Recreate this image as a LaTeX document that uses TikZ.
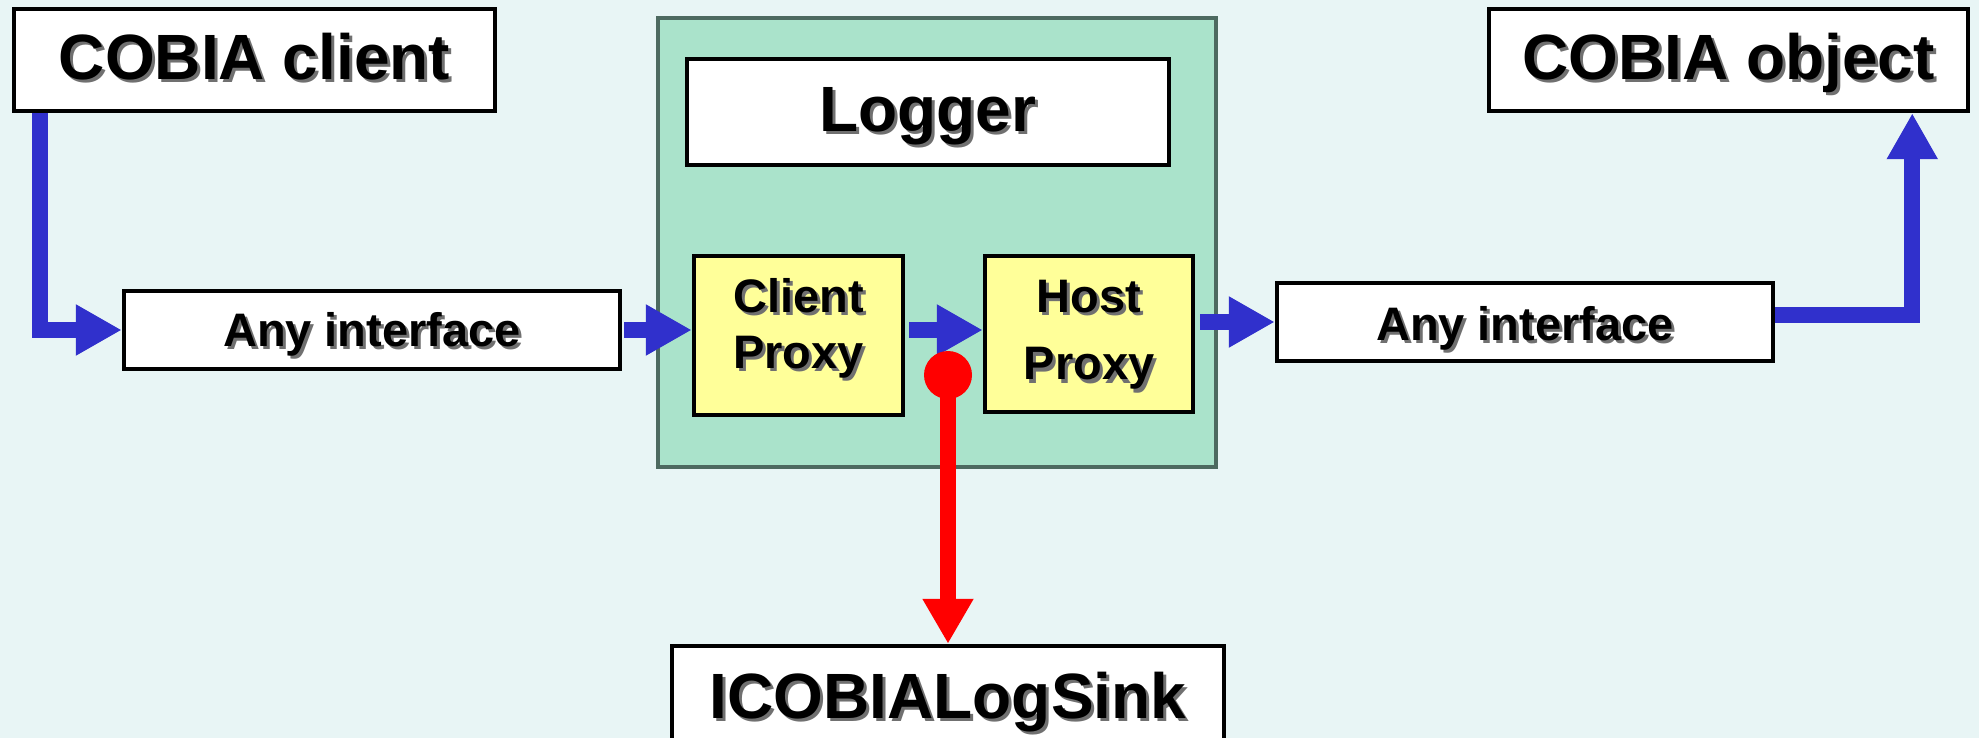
\documentclass[tikz,border=0pt]{standalone}
\usepackage{fontspec}
\setmainfont{Liberation Sans}
\usetikzlibrary{arrows.meta}
\definecolor{bgcol}{HTML}{E8F5F5}
\definecolor{panelfill}{HTML}{AAE3CB}
\definecolor{panelline}{HTML}{4D6A60}
\definecolor{proxyfill}{HTML}{FFFF99}
\definecolor{flowblue}{HTML}{3030CC}
\definecolor{logred}{HTML}{FF0000}
\definecolor{shadowgray}{HTML}{707070}
% text with a soft drop shadow
\newcommand\shd[1]{\leavevmode\rlap{\kern3pt\raisebox{-3pt}{\textcolor{shadowgray}{#1}}}#1}
% place a label's baseline at a given offset from the box centre
\newcommand\lift[2]{\raisebox{#1}[0pt][0pt]{#2}}
% two stacked lines, first baseline as reference
\newcommand\twolines[3]{\lift{#1}{\begin{tabular}[t]{@{}c@{}}#2\\#3\end{tabular}}}

\begin{document}
\begin{tikzpicture}[x=1pt,y=-1pt,
  box/.style={draw=black, line width=4.5pt, fill=white, inner sep=0pt,
    font=\bfseries\fontsize{47}{56}\selectfont},
  bigbox/.style={box, font=\bfseries\fontsize{64}{70}\selectfont},
  proxybox/.style={box, fill=proxyfill},
  panel/.style={draw=panelline, line width=4.5pt, fill=panelfill, inner sep=0pt},
  flow/.style={draw=flowblue, line width=16pt, -{Triangle[length=46pt,width=48pt]}},
  logflow/.style={draw=logred, line width=16pt, -{Triangle[length=45pt,width=48pt]}},
  tapdot/.style={circle, fill=logred, minimum size=48pt, inner sep=0pt},
]
\fill[bgcol] (0,0) rectangle (1979,738);
\useasboundingbox (0,0) rectangle (1979,738);
\clip (0,0) rectangle (1979,738);

% logger panel and its parts
\node[panel, minimum width=558pt, minimum height=449pt] (logger) at (937,242.5) {};
\node[bigbox, minimum width=482pt, minimum height=106pt] (lg) at (928,112) {\lift{-20pt}{\shd{Logger}}};
\node[proxybox, minimum width=209pt, minimum height=159pt] (cp) at (798.5,335.5)
  {\fontsize{47}{56}\selectfont\twolines{23.5pt}{\shd{Client}}{\shd{Proxy}}};
\node[proxybox, minimum width=208pt, minimum height=156pt] (hp) at (1089,334)
  {\fontsize{47}{68}\selectfont\twolines{22pt}{\shd{Host}}{\shd{Proxy}}};

% outer boxes
\node[bigbox, minimum width=481pt, minimum height=102pt] (cc) at (254.5,60) {\lift{-20pt}{\shd{COBIA client}}};
\node[bigbox, minimum width=479pt, minimum height=102pt] (co) at (1728.5,60) {\lift{-20pt}{\shd{COBIA object}}};
\node[box, minimum width=496pt, minimum height=78pt] (ai1) at (372,330) {\lift{-17pt}{\shd{Any interface}}};
\node[box, minimum width=496pt, minimum height=78pt] (ai2) at (1525,322) {\lift{-18pt}{\shd{Any interface}}};
\node[bigbox, minimum width=552pt, minimum height=102pt] (sink) at (948,697) {\lift{-21pt}{\shd{ICOBIALogSink}}};

% call flow
\draw[flow] ([xshift=28pt]cc.south west) |- (ai1.west);
\draw[flow, shorten <=2pt] (ai1.east) -- (ai1.east -| cp.west);
\draw[flow, shorten <=4pt] (cp.east |- ai1.east) -- (hp.west |- ai1.east);
\draw[flow, shorten <=5pt] (hp.east |- ai2.west) -- (ai2.west);
\draw[flow] ([yshift=7pt]ai2.east) -| ([xshift=-58pt]co.south east);

% logging tap
\node[tapdot] (tap) at (948,375) {};
\draw[logflow] (tap.center) -- (sink.north);
\end{tikzpicture}
\end{document}
